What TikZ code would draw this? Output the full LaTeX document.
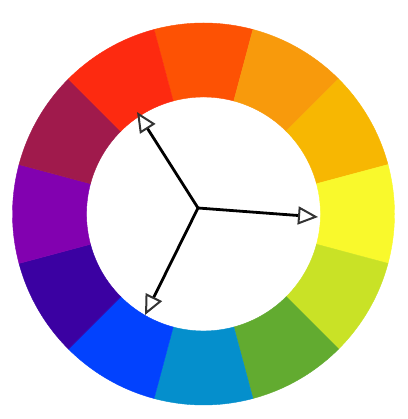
\documentclass[tikz,border=0pt]{standalone}
\usepackage{xcolor}
\usetikzlibrary{arrows.meta,calc}
\definecolor{wheelA}{HTML}{FD5204}
\definecolor{wheelB}{HTML}{F89A0C}
\definecolor{wheelC}{HTML}{F7B702}
\definecolor{wheelD}{HTML}{F9F92C}
\definecolor{wheelE}{HTML}{C9E226}
\definecolor{wheelF}{HTML}{62AB30}
\definecolor{wheelG}{HTML}{058FCC}
\definecolor{wheelH}{HTML}{0242FE}
\definecolor{wheelI}{HTML}{3B01A2}
\definecolor{wheelJ}{HTML}{8201B0}
\definecolor{wheelK}{HTML}{A01A4C}
\definecolor{wheelL}{HTML}{FD2A10}
\tikzset{
	segment/.style={fill=#1,draw=#1,line width=0.4pt},
	triad/.style={line width=2.8pt,draw=black,-{Triangle[open,length=20pt,width=18pt,line width=2pt,color=black!80]}},
}

\begin{document}
	\begin{tikzpicture}[x=1pt,y=1pt]
		\useasboundingbox (0,0) rectangle (407,419);
		\coordinate (c) at (203.5,205);
		\foreach \col [count=\i from 0] in {wheelA,wheelB,wheelC,wheelD,wheelE,wheelF,wheelG,wheelH,wheelI,wheelJ,wheelK,wheelL}{
			\pgfmathsetmacro{\a}{105-30*\i}
			\fill[segment=\col] ($(c)+(\a:191)$) arc[start angle=\a,delta angle=-30,radius=191]
				-- ($(c)+(\a-30:117)$) arc[start angle=\a-30,delta angle=30,radius=117] -- cycle;
		}
		\coordinate (hub) at (198,211);
		\coordinate (tipr) at (137,307);
		\coordinate (tipy) at (318,202);
		\coordinate (tipb) at (145,104);
		\draw[triad] (hub) -- (tipr);
		\draw[triad] (hub) -- (tipy);
		\draw[triad] (hub) -- (tipb);
	\end{tikzpicture}
\end{document}
